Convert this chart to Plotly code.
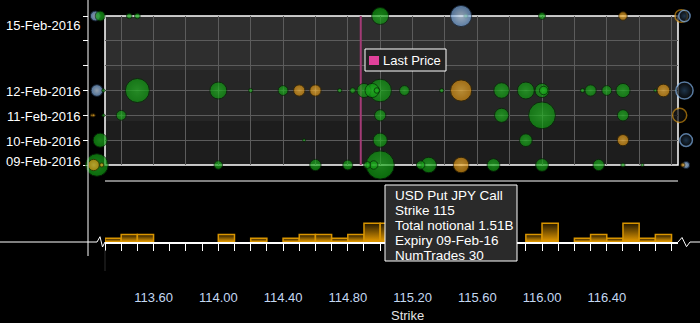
import plotly.graph_objects as go

# ---------------- data ----------------
EXPIRY_DAYS = ["2016-02-09", "2016-02-10", "2016-02-11", "2016-02-12",
               "2016-02-13", "2016-02-14", "2016-02-15"]
EXPIRY_LABELS = ["09-Feb-2016", "10-Feb-2016", "11-Feb-2016", "12-Feb-2016",
                 "", "", "15-Feb-2016"]

# USD Put JPY Call trades: strike, expiry, total notional (USD millions)
PUT_STRIKE = [113.45, 113.5, 115.0, 115.53, 116.0,
              113.5, 114.0, 114.2, 114.4, 114.75, 114.83, 114.9, 114.95, 115.0, 114.98,
              115.15, 115.38, 115.75, 115.9, 116.0, 116.01, 116.25, 116.3, 116.4, 116.5, 116.7,
              113.4, 115.0, 115.75, 116.0, 116.5,
              114.53, 115.0, 115.9,
              114.0, 114.6, 114.8, 114.92, 114.96, 115.0, 115.25, 115.3, 115.7, 116.0,
              116.35, 116.5, 116.62]
PUT_EXPIRY = ["2016-02-15"] * 5 + ["2016-02-12"] * 21 + ["2016-02-11"] * 5 + \
             ["2016-02-10"] * 3 + ["2016-02-09"] * 13
PUT_NOTIONAL = [60, 60, 544, 34, 94,
                1091, 544, 34, 185, 34, 60, 378, 378, 966, 60,
                185, 34, 457, 544, 378, 136, 34, 242, 185, 378, 15,
                185, 242, 378, 1363, 242,
                8, 378, 306,
                136, 242, 185, 94, 136, 1510, 136, 457, 306, 306,
                242, 34, 15]

# USD Call JPY Put trades
CALL_STRIKE = [116.5, 114.5, 114.6, 115.5, 116.75, 116.5, 115.5]
CALL_EXPIRY = ["2016-02-15", "2016-02-12", "2016-02-12", "2016-02-12", "2016-02-12",
               "2016-02-10", "2016-02-09"]
CALL_NOTIONAL = [136, 242, 242, 850, 306, 242, 457]

# Other structures
OTHER_STRIKE = [115.5]
OTHER_EXPIRY = ["2016-02-15"]
OTHER_NOTIONAL = [850]

# Trades struck outside the displayed strike window (drawn at the panel edges)
EDGE_STRIKE = [113.24, 113.27, 113.25, 113.29, 113.22, 113.23, 113.29, 113.27,
               113.25, 113.23, 113.28,
               116.86, 116.88, 116.88, 116.85, 116.89, 116.89, 116.87]
EDGE_EXPIRY = ["2016-02-15", "2016-02-15", "2016-02-12", "2016-02-12", "2016-02-11",
               "2016-02-11", "2016-02-11", "2016-02-10", "2016-02-09", "2016-02-09",
               "2016-02-09",
               "2016-02-15", "2016-02-15", "2016-02-12", "2016-02-11",
               "2016-02-10", "2016-02-09", "2016-02-09"]
EDGE_NOTIONAL = [185, 185, 260, 20, 12, 12, 15, 378, 966, 242, 34,
                 300, 240, 560, 378, 300, 94, 34]
EDGE_KIND = ["other", "put", "other", "put", "call", "call", "put", "put", "put",
             "call", "call",
             "call_ring", "other_ring", "other_ring", "call_ring", "other_ring",
             "other", "call"]

LAST_PRICE = 114.88

# Strike histogram (trade count per 0.1 strike bin)
BIN_LEFT = [113.3, 113.4, 113.5, 113.6, 113.7, 113.8, 113.9, 114.0, 114.1, 114.2,
            114.3, 114.4, 114.5, 114.6, 114.7, 114.8, 114.9, 115.0, 115.1, 115.2,
            115.3, 115.4, 115.5, 115.6, 115.7, 115.8, 115.9, 116.0, 116.1, 116.2,
            116.3, 116.4, 116.5, 116.6, 116.7]
BIN_COUNT = [1, 2, 2, 0, 0, 0, 0, 2, 0, 1,
             0, 1, 2, 2, 1, 2, 5, 5, 2, 2,
             2, 2, 2, 1, 2, 0, 2, 5, 0, 1,
             2, 1, 5, 1, 2]
BIN_WIDTH = 0.1

STRIKE_TICKS = [113.6, 114.0, 114.4, 114.8, 115.2, 115.6, 116.0, 116.4]

TOOLTIP_LINES = ["USD Put JPY Call", "Strike 115", "Total notional 1.51B",
                 "Expiry 09-Feb-16", "NumTrades 30"]

# ---------------- style / geometry ----------------
FONT = "Liberation Sans, Arial, sans-serif"
W, H = 700, 323
X_MIN, X_MAX = 113.3, 116.84
PANEL_L, PANEL_R = 105, 678          # pixel edges of the strike panel
PANEL_T, PANEL_B = 16, 165           # pixel edges of the bubble panel
BASE_Y = 242                         # histogram baseline


def px_x(px):
    return px / W


def px_y(py):
    return (H - py) / H


PX_PER_STRIKE = (PANEL_R - PANEL_L) / (X_MAX - X_MIN)
X_WIDE = [X_MIN - PANEL_L / PX_PER_STRIKE, X_MAX + (W - PANEL_R) / PX_PER_STRIKE]

MAX_BUBBLE = 20
SIZEREF = max(PUT_NOTIONAL) / MAX_BUBBLE ** 2
LABEL_NUDGE = {"2016-02-15": -9, "2016-02-09": 4}

STYLE = {
    "put": dict(fill="#109812", center="#26b526", edge="#062806"),
    "call": dict(fill="#d48c10", center="#f4b73c", edge="#3a2800"),
    "other": dict(fill="#709fd6", center="#cfe3f7", edge="#1e2e44"),
    "call_ring": dict(fill="#0b0b0b", center="#141414", edge="#c98a10"),
    "other_ring": dict(fill="#0b0b0b", center="#2a4a6a", edge="#7fb0e6"),
}

fig = go.Figure()

# last price marker line
fig.add_trace(go.Scatter(
    x=[LAST_PRICE, LAST_PRICE], y=[EXPIRY_DAYS[0], EXPIRY_DAYS[-1]],
    mode="lines", line=dict(color="#a33b76", width=2),
    hoverinfo="skip", showlegend=False, cliponaxis=False))


def bubbles(strike, expiry, notional, kind, xaxis="x", yaxis="y"):
    order = sorted(range(len(strike)), key=lambda i: -notional[i])
    st = [STYLE[kind[i]] for i in order]
    fig.add_trace(go.Scatter(
        x=[strike[i] for i in order], y=[expiry[i] for i in order],
        xaxis=xaxis, yaxis=yaxis,
        mode="markers", showlegend=False, cliponaxis=False, hoverinfo="skip",
        marker=dict(size=[notional[i] for i in order], sizemode="area",
                    sizeref=SIZEREF, sizemin=1.5,
                    color=[s["fill"] for s in st],
                    gradient=dict(type="radial", color=[s["center"] for s in st]),
                    line=dict(color=[s["edge"] for s in st],
                              width=[1.5 if "ring" in kind[i] else 1 for i in order]))))


bubbles(EDGE_STRIKE, EDGE_EXPIRY, EDGE_NOTIONAL, EDGE_KIND, "x3", "y3")
bubbles(PUT_STRIKE, PUT_EXPIRY, PUT_NOTIONAL, ["put"] * len(PUT_STRIKE))
bubbles(CALL_STRIKE, CALL_EXPIRY, CALL_NOTIONAL, ["call"] * len(CALL_STRIKE))
bubbles(OTHER_STRIKE, OTHER_EXPIRY, OTHER_NOTIONAL, ["other"] * len(OTHER_STRIKE))

# strike histogram with vertical gradient fill
for left, count in zip(BIN_LEFT, BIN_COUNT):
    if count <= 0:
        continue
    right = left + BIN_WIDTH
    fig.add_trace(go.Scatter(
        x=[left, left, right, right, left], y=[0, count, count, 0, 0],
        xaxis="x2", yaxis="y2", mode="lines", fill="toself",
        fillgradient=dict(type="vertical", start=0, stop=count,
                          colorscale=[[0, "#e89c00"], [1, "#251900"]]),
        line=dict(color="#d99500", width=1.5),
        hoverinfo="skip", showlegend=False))

X0, X1 = px_x(PANEL_L), px_x(PANEL_R)
shapes = []
# background bands of the bubble panel
for top, bot, col in [(16, 70, "#2e2e2e"), (70, 121, "#262626"), (121, 165, "#1d1d1d")]:
    shapes.append(dict(type="rect", xref="paper", yref="paper", x0=X0, x1=X1,
                       y0=px_y(bot), y1=px_y(top), fillcolor=col,
                       line=dict(width=0), layer="below"))
# panel frame
shapes.append(dict(type="rect", xref="paper", yref="paper", x0=X0, x1=X1,
                   y0=px_y(PANEL_B), y1=px_y(PANEL_T),
                   line=dict(color="white", width=1.5), layer="between"))
# separator above the histogram
shapes.append(dict(type="line", xref="paper", yref="paper", x0=X0, x1=X1,
                   y0=px_y(181), y1=px_y(181), line=dict(color="white", width=1)))
# long vertical axis rule
shapes.append(dict(type="line", xref="paper", yref="paper", x0=px_x(88), x1=px_x(88),
                   y0=px_y(256), y1=px_y(0), line=dict(color="white", width=1)))
# baseline extensions with axis-break zigzags
left_path = "M {},{} L {},{} L {},{} L {},{} L {},{}".format(
    px_x(0), px_y(BASE_Y), px_x(97), px_y(BASE_Y), px_x(100), px_y(236.7),
    px_x(102.5), px_y(247), px_x(105), px_y(BASE_Y))
right_path = "M {},{} L {},{} L {},{} L {},{} L {},{}".format(
    px_x(678), px_y(BASE_Y), px_x(682), px_y(237.5), px_x(686.5), px_y(246.7),
    px_x(690), px_y(BASE_Y), px_x(700), px_y(BASE_Y))
for p in (left_path, right_path):
    shapes.append(dict(type="path", xref="paper", yref="paper", path=p,
                       line=dict(color="white", width=1)))
shapes.append(dict(type="line", xref="paper", yref="paper", x0=X0, x1=X0,
                   y0=px_y(250), y1=px_y(271), line=dict(color="#2c2c2c", width=1)))
# legend box
shapes.append(dict(type="rect", xref="paper", yref="paper",
                   x0=px_x(365), x1=px_x(446), y0=px_y(71), y1=px_y(49),
                   fillcolor="#222222", line=dict(color="white", width=1)))
shapes.append(dict(type="rect", xref="paper", yref="paper",
                   x0=px_x(369), x1=px_x(379), y0=px_y(65), y1=px_y(56),
                   fillcolor="#e0419b", line=dict(width=0)))
# tooltip box
shapes.append(dict(type="rect", xref="paper", yref="paper",
                   x0=px_x(385), x1=px_x(517), y0=px_y(261), y1=px_y(185),
                   fillcolor="#2a2a2a", line=dict(color="white", width=1)))

annotations = []
for day, label in zip(EXPIRY_DAYS, EXPIRY_LABELS):
    if not label:
        continue
    annotations.append(dict(
        text=label, xref="paper", yref="y", x=px_x(88), y=day, xanchor="right",
        yanchor="middle", xshift=-6, yshift=LABEL_NUDGE.get(day, -1),
        showarrow=False, font=dict(family=FONT, size=13, color="white")))
annotations.append(dict(
    text="Last Price", xref="paper", yref="paper", x=px_x(381), y=px_y(60),
    xanchor="left", yanchor="middle", showarrow=False,
    font=dict(family=FONT, size=13, color="white")))
for i, line in enumerate(TOOLTIP_LINES):
    annotations.append(dict(
        text=line, xref="paper", yref="paper", x=px_x(393), y=px_y(195 + 15.2 * i),
        xanchor="left", yanchor="middle", showarrow=False,
        font=dict(family=FONT, size=13.5, color="white")))
annotations.append(dict(
    text="Strike", xref="paper", yref="paper", x=px_x(407), y=px_y(315),
    xanchor="center", yanchor="middle", showarrow=False,
    font=dict(family=FONT, size=13, color="#e4e4e4")))

MAIN_DOMAIN = [px_y(PANEL_B), px_y(PANEL_T)]
hidden = dict(visible=False, showgrid=False, zeroline=False, automargin=False)

fig.update_layout(
    width=W, height=H, template="none",
    margin=dict(l=0, r=0, t=0, b=0, pad=0),
    paper_bgcolor="black", plot_bgcolor="rgba(0,0,0,0)",
    showlegend=False, font=dict(family=FONT, size=13, color="white"),
    shapes=shapes, annotations=annotations,
    xaxis=dict(domain=[X0, X1], range=[X_MIN, X_MAX], anchor="y",
               tick0=113.4, dtick=0.2, showgrid=True, gridcolor="#5c5c5c",
               gridwidth=1, showticklabels=False, ticks="", zeroline=False,
               showline=False, automargin=False),
    yaxis=dict(domain=MAIN_DOMAIN, type="date",
               range=[EXPIRY_DAYS[0], EXPIRY_DAYS[-1]], anchor="free",
               position=px_x(88),
               tickvals=EXPIRY_DAYS, ticktext=[""] * len(EXPIRY_DAYS),
               ticks="outside", ticklen=5, tickcolor="white", tickwidth=1,
               showgrid=True, gridcolor="#5c5c5c", gridwidth=1,
               zeroline=False, showline=False, automargin=False),
    xaxis2=dict(domain=[X0, X1], range=[X_MIN, X_MAX], anchor="y2",
                showgrid=False, zeroline=False, showline=True, linecolor="white",
                linewidth=2, ticks="outside", ticklen=7, tickcolor="white",
                tickwidth=1, tickvals=STRIKE_TICKS,
                ticktext=["{:.2f}".format(v) for v in STRIKE_TICKS],
                tickfont=dict(family=FONT, size=13, color="#c4d8f2"),
                ticklabelstandoff=35,
                minor=dict(tick0=113.4, dtick=BIN_WIDTH, ticks="outside", ticklen=7,
                           tickcolor="white", tickwidth=1, showgrid=False),
                automargin=False),
    yaxis2=dict(domain=[px_y(BASE_Y), px_y(BASE_Y - 22.6)], range=[0, 6],
                anchor="x2", **hidden),
    # full-width strike scale for trades outside the panel window
    xaxis3=dict(domain=[0, 1], range=X_WIDE, anchor="y3", **hidden),
    yaxis3=dict(domain=MAIN_DOMAIN, type="date",
                range=[EXPIRY_DAYS[0], EXPIRY_DAYS[-1]], anchor="x3", **hidden),
)

fig.write_html("out.html")
